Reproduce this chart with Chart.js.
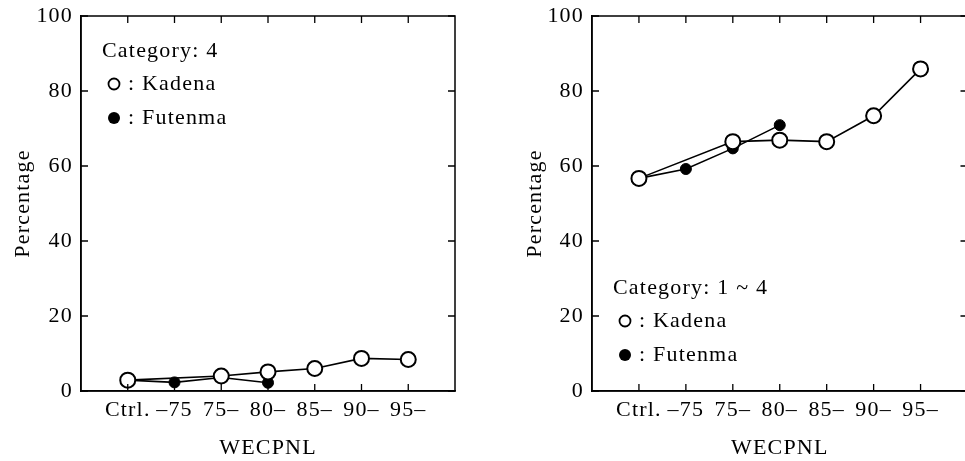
<!DOCTYPE html>
<html lang="en">
<head>
  <meta charset="utf-8">
  <title>WECPNL percentage</title>
  <script src="https://cdn.jsdelivr.net/npm/chart.js@4.4.1/dist/chart.umd.min.js"></script>
  <style>
    body { margin: 0; background: #fff; overflow: hidden; }
    .wrap { position: relative; width: 965px; height: 461px; overflow: hidden; }
    canvas { position: absolute; top: 0; }
    #left { left: 0; }
    #right { left: 480px; }
  </style>
</head>
<body>
  <div class="wrap">
    <canvas id="left" width="480" height="461"></canvas>
    <canvas id="right" width="497" height="461"></canvas>
  </div>
  <script>
    // WECPNL classes
    const categories = ['Ctrl.', '\u201375', '75\u2013', '80\u2013', '85\u2013', '90\u2013', '95\u2013'];
    const yTicks = [0, 20, 40, 60, 80, 100];

    // Category 4 (left panel)
    const kadenaCat4 = [2.9, null, 4.0, 5.1, 6.0, 8.7, 8.4];
    const futenmaCat4 = [2.9, 2.3, 3.6, 2.2];

    // Category 1 ~ 4 (right panel)
    const kadenaCat14 = [56.7, null, 66.5, 66.9, 66.5, 73.4, 85.9];
    const futenmaCat14 = [56.7, 59.2, 64.7, 70.9];

    const FONT = { family: '"Liberation Serif", "DejaVu Serif", serif', size: 22 };
    const SPACING = '1.2px';
    const toXY = arr => arr.map((v, i) => ({ x: i + 1, y: v }));

    const spacingPlugin = {
      id: 'spacing',
      beforeUpdate(chart) { chart.ctx.letterSpacing = SPACING; },
      beforeDraw(chart) { chart.ctx.letterSpacing = SPACING; }
    };

    // closed frame with inward tick marks on all four sides
    const frameTicks = {
      id: 'frameTicks',
      afterDatasetsDraw(chart) {
        const { ctx, chartArea: a, scales } = chart;
        ctx.save();
        ctx.strokeStyle = '#000';
        ctx.lineWidth = 1.5;
        ctx.strokeRect(a.left, a.top, a.right - a.left, a.bottom - a.top);
        ctx.lineWidth = 1.3;
        ctx.beginPath();
        yTicks.forEach(v => {
          const y = scales.y.getPixelForValue(v);
          ctx.moveTo(a.left, y);
          ctx.lineTo(a.left + 7, y);
          ctx.moveTo(a.right, y);
          ctx.lineTo(a.right - 7, y);
        });
        categories.forEach((c, i) => {
          const x = scales.x.getPixelForValue(i + 1);
          ctx.moveTo(x, a.bottom);
          ctx.lineTo(x, a.bottom - 7);
          ctx.moveTo(x, a.top);
          ctx.lineTo(x, a.top + 7);
        });
        ctx.stroke();
        ctx.restore();
      }
    };

    // legend box drawn inside the plot
    function legendPlugin(title, lx, ly) {
      return {
        id: 'legendBox',
        afterDraw(chart) {
          const ctx = chart.ctx;
          ctx.save();
          ctx.letterSpacing = SPACING;
          ctx.font = FONT.size + 'px ' + FONT.family;
          ctx.fillStyle = '#000';
          ctx.textBaseline = 'middle';
          ctx.fillText(title, lx, ly);
          ctx.fillText(': Kadena', lx + 26, ly + 33);
          ctx.fillText(': Futenma', lx + 26, ly + 67);
          ctx.lineWidth = 1.8;
          ctx.strokeStyle = '#000';
          ctx.beginPath();
          ctx.arc(lx + 12, ly + 33, 5.5, 0, Math.PI * 2);
          ctx.fillStyle = '#fff';
          ctx.fill();
          ctx.stroke();
          ctx.beginPath();
          ctx.arc(lx + 12, ly + 67, 6, 0, Math.PI * 2);
          ctx.fillStyle = '#000';
          ctx.fill();
          ctx.restore();
        }
      };
    }

    function makeChart(id, kadena, futenma, title, lx, ly, padLeft, yWidth, padRight) {
      return new Chart(document.getElementById(id), {
        type: 'line',
        data: {
          datasets: [
            {
              label: 'Kadena',
              data: toXY(kadena),
              borderColor: '#000',
              borderWidth: 1.6,
              pointRadius: 7.5,
              pointBackgroundColor: '#fff',
              pointBorderColor: '#000',
              pointBorderWidth: 2,
              spanGaps: true,
              tension: 0
            },
            {
              label: 'Futenma',
              data: toXY(futenma),
              borderColor: '#000',
              borderWidth: 1.6,
              pointRadius: 5.5,
              pointBackgroundColor: '#000',
              pointBorderColor: '#000',
              pointBorderWidth: 1,
              tension: 0
            }
          ]
        },
        options: {
          responsive: false,
          animation: false,
          layout: { padding: { left: padLeft, right: padRight, top: 16, bottom: 0 } },
          plugins: { legend: { display: false }, tooltip: { enabled: false } },
          scales: {
            x: {
              type: 'linear',
              min: 0,
              max: 8,
              afterBuildTicks: s => { s.ticks = categories.map((c, i) => ({ value: i + 1 })); },
              afterFit: s => { s.height = 70; s.paddingLeft = 0; s.paddingRight = 0; },
              ticks: {
                color: '#000',
                font: FONT,
                padding: 6,
                maxRotation: 0,
                autoSkip: false,
                callback: v => categories[v - 1]
              },
              grid: { display: false, drawTicks: false },
              border: { color: '#000', width: 1.5 },
              title: { display: true, text: 'WECPNL', color: '#000', font: FONT, padding: 0 }
            },
            y: {
              min: 0,
              max: 100,
              afterBuildTicks: s => { s.ticks = yTicks.map(v => ({ value: v })); },
              afterFit: s => { s.width = yWidth; s.paddingTop = 0; s.paddingBottom = 0; },
              ticks: { color: '#000', font: FONT, padding: 8 },
              grid: { display: false, drawTicks: false },
              border: { color: '#000', width: 1.5 },
              title: { display: true, text: 'Percentage', color: '#000', font: FONT, padding: 0 }
            }
          }
        },
        plugins: [spacingPlugin, frameTicks, legendPlugin(title, lx, ly)]
      });
    }

    makeChart('left', kadenaCat4, futenmaCat4, 'Category: 4', 102, 51, 10, 71, 25);
    makeChart('right', kadenaCat14, futenmaCat14, 'Category: 1 ~ 4', 133, 288, 42, 70, 0);
  </script>
</body>
</html>
